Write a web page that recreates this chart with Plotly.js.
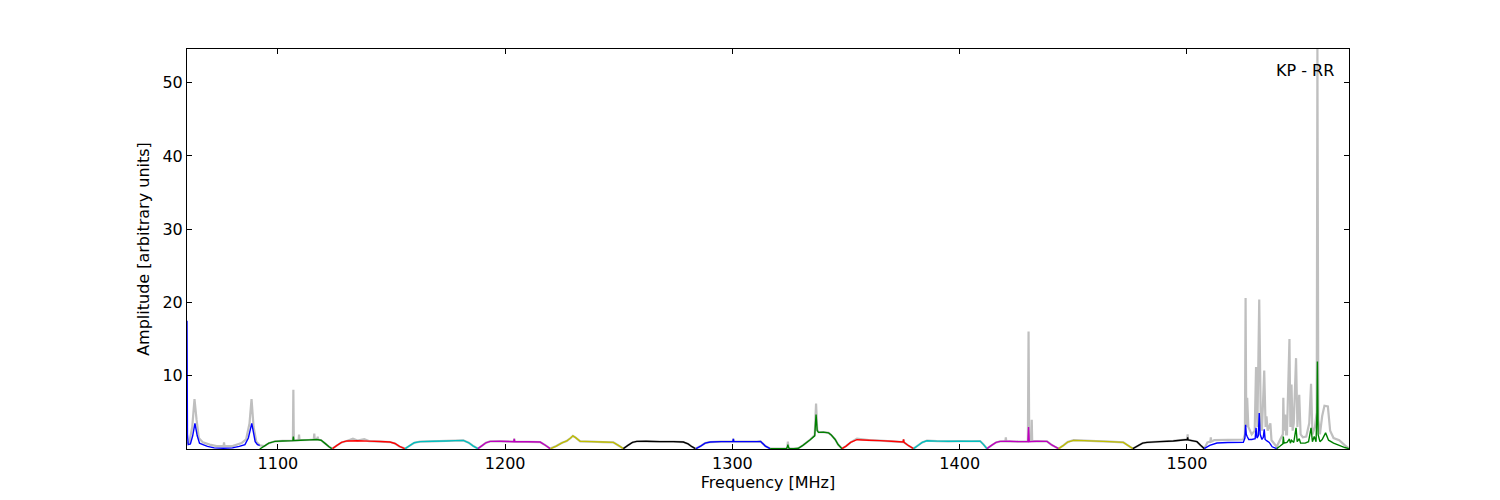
<!DOCTYPE html>
<html>
<head>
<meta charset="utf-8">
<script src="https://cdn.plot.ly/plotly-3.0.1.min.js"></script>
<style>html,body{margin:0;padding:0;background:#fff;}#chart{width:1500px;height:500px;}</style>
</head>
<body>
<div id="chart"></div>
<script>
// ---- Data ----
// Per-subband bandpass-calibrated amplitude (colored lines)
const band1F = [1060.0,1060.2,1060.5,1061.5,1062.5,1063.5,1064.5,1065.5,1067,1069,1072,1076,1080,1083,1085.5,1087,1088.5,1090,1091,1092];
const band1A = [17.5,2.0,0.6,0.7,1.8,3.5,1.8,0.8,0.6,0.35,0.15,0.1,0.15,0.35,0.6,1.5,3.5,1.0,0.6,0.5];
const band2F = [1092,1094,1096,1098.7,1102,1106.6,1106.8,1107.0,1110,1114,1117,1119,1121,1122.5,1123.7];
const band2A = [0.0,0.4,0.8,1.04,1.1,1.15,1.7,1.15,1.2,1.25,1.3,1.2,0.7,0.3,0.05];
const band3F = [1124,1126,1128,1130.3,1135,1140,1145,1149.3,1151.5,1153.5,1155.8];
const band3A = [0.05,0.5,0.9,1.1,1.13,1.08,1.02,0.95,0.75,0.35,0.05];
const band4F = [1156,1158,1160,1162.6,1168,1174,1178,1181.6,1184,1186,1188];
const band4A = [0.05,0.45,0.85,1.0,1.05,1.1,1.15,1.17,0.85,0.4,0.05];
const band5F = [1188,1190,1191.5,1193.4,1198,1203.8,1204,1204.2,1210,1215.4,1217.5,1219.8];
const band5A = [0.05,0.5,0.85,1.04,1.05,1.0,1.4,1.0,0.98,0.95,0.55,0.05];
const band6F = [1220,1222.5,1225,1227.1,1228.8,1229.8,1231,1233,1238,1243,1247.6,1250,1252];
const band6A = [0.05,0.4,0.85,1.1,1.5,1.8,1.55,1.05,1.0,0.95,0.9,0.45,0.05];
const band7F = [1252,1254,1256,1257.9,1262,1268,1274,1278.4,1280.5,1282,1283.7];
const band7A = [0.05,0.5,0.9,1.04,1.05,1.0,1.0,0.95,0.7,0.35,0.05];
const band8F = [1284,1286,1288,1290.2,1295,1300.2,1300.4,1300.6,1305,1310.8,1312.4,1314.5,1316.6];
const band8A = [0.05,0.4,0.8,0.95,1.0,1.0,1.4,1.0,1.0,1.0,1.04,0.4,0.05];
const band9F = [1316.6,1320,1323.8,1324.2,1324.4,1324.6,1325,1327,1329,1331,1334.2,1336.2,1336.8,1337.3,1337.9,1340,1342.3,1343.5,1345.2,1346.5,1348.2];
const band9A = [0.05,0.05,0.05,0.3,0.6,0.3,0.05,0.05,0.1,0.5,1.27,1.8,4.7,2.5,2.27,2.3,2.2,1.9,1.3,0.6,0.05];
const band10F = [1348.2,1350,1352,1354.8,1360,1365,1370,1375.1,1375.3,1375.5,1377.5,1379.7];
const band10A = [0.05,0.4,0.9,1.27,1.2,1.15,1.05,0.95,1.3,0.9,0.45,0.05];
const band11F = [1379.7,1381.5,1383.5,1385.6,1390,1395,1400,1405,1409,1410.5,1412];
const band11A = [0.05,0.45,0.9,1.13,1.08,1.05,1.08,1.06,1.08,0.6,0.05];
const band12F = [1412,1414,1416,1417.8,1422,1426,1430.0,1430.3,1430.6,1434,1438.4,1440.5,1443.5];
const band12A = [0.05,0.5,0.9,1.04,1.05,1.0,1.0,3.0,1.0,1.05,1.04,0.55,0.05];
const band13F = [1443.5,1445.5,1447.5,1450.1,1455,1460,1466,1472,1474,1476.2];
const band13A = [0.05,0.45,0.95,1.17,1.15,1.08,1.0,0.9,0.5,0.05];
const band14F = [1476.2,1478.5,1480.5,1482.4,1488,1494,1499.3,1500.1,1500.3,1500.5,1504.4,1506,1507.6];
const band14A = [0.05,0.45,0.8,0.9,1.0,1.1,1.27,1.25,1.6,1.25,1.0,0.5,0.05];
const band15F = [1507.6,1510,1513.2,1518,1524.8,1525.5,1525.8,1526.1,1526.5,1527.2,1528.5,1530.0,1530.4,1530.8,1531.4,1531.8,1532.2,1533,1533.6,1534,1534.4,1535.2,1536.2,1537.5,1539.5];
const band15A = [0.05,0.5,0.82,0.88,0.9,1.5,3.3,2.0,1.7,1.3,1.3,1.4,2.9,1.5,1.8,4.9,2.0,1.3,1.6,2.7,1.3,1.1,0.9,0.3,0.05];
const band16F = [1539.5,1541,1542.2,1542.4,1542.7,1544,1545.1,1545.5,1546,1547,1548,1548.5,1549.4,1550,1552,1553.5,1554.6,1555.2,1556,1556.8,1557.2,1557.4,1557.7,1558.5,1559.5,1561,1562.3,1564.5,1567,1569.5,1571.3];
const band16A = [0.05,0.4,0.7,1.7,0.8,0.9,1.36,0.8,1.2,0.9,2.9,1.0,1.4,0.8,0.8,1.0,2.9,1.0,1.7,1.0,5.0,11.95,2.0,1.0,1.3,2.2,1.2,0.8,0.5,0.2,0.05];

// Raw (uncalibrated-RFI) spectrum shown in grey
const greyF = [
 1060,1061,1062.3,1063.3,1064.2,1065.2,1067,1070,1073,1076.1,1076.3,1076.5,1080,1084,1086,1087.5,1088.4,1089.3,1090.5,1092,
 1094,1096,1098.7,1102,1106.6,1106.8,1107.0,1109.1,1109.3,1109.5,1114,1115.8,1116,1116.2,1117.3,1117.5,1117.7,1119,1121,1122.5,1124,
 1126,1128,1130.3,1133,1135,1138,1140,1145,1149.3,1151.5,1153.5,1156,
 1158,1160,1162.6,1168,1174,1178,1181.6,1184,1186,1188,
 1190,1191.5,1193.4,1198,1203.8,1204,1204.2,1210,1215.4,1217.5,1219.8,
 1222.5,1225,1227.1,1228.8,1229.8,1231,1233,1238,1243,1247.6,1250,1252,
 1254,1256,1257.9,1262,1268,1274,1278.4,1280.5,1282,1283.7,
 1286,1288,1290.2,1295,1300.2,1300.4,1300.6,1305,1310.8,1312.4,1314.5,1316.6,
 1320,1324.1,1324.4,1324.7,1327,1329,1331,1334.2,1336.2,1336.8,1337.3,1337.9,1340,1342.3,1343.5,1345.2,1346.5,1348.2,
 1350,1352,1354.8,1360,1365,1370,1375.1,1375.3,1375.5,1377.5,1379.7,
 1381.5,1383.5,1385.6,1390,1395,1400,1405,1409,1410.5,1412,
 1414,1416,1417.8,1420.1,1420.3,1420.5,1426,1430.0,1430.3,1430.6,1431.5,1431.7,1431.9,1434,1438.4,1440.5,1443.5,
 1445.5,1447.5,1450.1,1455,1460,1466,1472,1474,1476.2,
 1478.5,1480.5,1482.4,1488,1494,1499.3,1500.1,1500.3,1500.5,1504.4,1506,1507.6,
 1509,1510.3,1510.5,1510.7,1512,1518,1524.8,1525.5,1525.8,1526.1,1526.5,1527,1528.5,1529.8,1530.4,1531,1531.8,1532.5,1533,1534,1534.6,1535,1535.5,1536.7,1537.2,1539.5,
 1541,1542.2,1542.4,1542.7,1543.2,1543.6,1544,1545.1,1545.5,1546,1546.5,1547,1548,1548.6,1549.4,1550,1551,1552.5,1553.8,1554.6,1555.2,1556.3,1557.1,1557.4,1557.8,1558.5,1559.5,1560.5,1562,1563,1564.5,1567,1569.5,1571.3
];
const greyA = [
 0.8,0.9,3.0,6.8,4.0,1.5,0.9,0.6,0.4,0.4,0.9,0.4,0.4,0.8,1.3,3.5,6.8,3.0,1.0,0.5,
 0.4,0.8,1.05,1.1,1.15,8.1,1.15,1.2,1.95,1.2,1.25,1.3,2.1,1.3,1.3,1.7,1.3,1.2,0.7,0.3,0.05,
 0.5,0.9,1.1,1.4,1.15,1.35,1.08,1.02,0.95,0.75,0.35,0.05,
 0.45,0.85,1.0,1.05,1.1,1.15,1.17,0.85,0.4,0.05,
 0.5,0.85,1.04,1.05,1.0,1.4,1.0,0.98,0.95,0.55,0.05,
 0.4,0.85,1.1,1.5,1.8,1.55,1.05,1.0,0.95,0.9,0.45,0.05,
 0.5,0.9,1.04,1.05,1.0,1.0,0.95,0.7,0.35,0.05,
 0.4,0.8,0.95,1.0,1.0,1.4,1.0,1.0,1.0,1.04,0.4,0.05,
 0.05,0.05,1.0,0.05,0.05,0.1,0.5,1.27,1.9,6.2,2.6,2.3,2.3,2.2,1.9,1.3,0.6,0.05,
 0.4,0.9,1.4,1.2,1.15,1.05,0.95,1.3,0.9,0.45,0.05,
 0.45,0.9,1.15,1.08,1.05,1.08,1.06,1.08,0.6,0.05,
 0.5,0.9,1.04,1.05,1.6,1.05,1.0,1.0,16.05,1.2,1.2,4.0,1.1,1.05,1.04,0.55,0.05,
 0.45,0.95,1.2,1.15,1.08,1.0,0.9,0.5,0.05,
 0.45,0.8,0.9,1.0,1.1,1.27,1.25,2.0,1.25,1.0,0.5,0.05,
 0.9,1.0,1.6,1.0,1.2,1.25,1.3,2.0,20.6,3.0,7.0,3.0,2.0,2.5,11.2,3.0,20.4,3.5,2.5,10.7,3.0,4.45,2.5,3.5,1.2,0.3,
 1.3,2.0,7.0,2.5,4.7,2.0,2.0,15.0,3.0,8.8,2.5,3.5,12.4,3.0,7.4,2.0,1.6,1.7,3.5,8.9,2.0,3.0,5.0,54.6,4.0,2.0,4.5,5.9,5.8,2.5,1.5,1.2,0.5,0.1
];

const xTickVals = [1100,1200,1300,1400,1500];
const yTickVals = [10,20,30,40,50];
const label = "KP - RR";

// ---- Build traces ----
const bandColors = ['#0000ff','#008000','#ff0000','#00bfbf','#bf00bf','#bfbf00','#000000'];
const bandsF = [band1F,band2F,band3F,band4F,band5F,band6F,band7F,band8F,band9F,band10F,band11F,band12F,band13F,band14F,band15F,band16F];
const bandsA = [band1A,band2A,band3A,band4A,band5A,band6A,band7A,band8A,band9A,band10A,band11A,band12A,band13A,band14A,band15A,band16A];

const traces = [{
  x: greyF, y: greyA, type: 'scatter', mode: 'lines',
  line: {color: '#bfbfbf', width: 2.2, simplify: false}, hoverinfo: 'skip', showlegend: false
}];
bandsF.forEach((f, i) => {
  traces.push({
    x: f, y: bandsA[i], type: 'scatter', mode: 'lines',
    line: {color: bandColors[i % bandColors.length], width: 1.4, simplify: false},
    showlegend: false
  });
});

const font = {family: 'DejaVu Sans, sans-serif', size: 16, color: '#000'};
const layout = {
  width: 1500, height: 500,
  margin: {l: 187, r: 151, t: 49, b: 51},
  paper_bgcolor: '#fff', plot_bgcolor: '#fff',
  font: font,
  showlegend: false,
  xaxis: {
    range: [1060, 1571.3], tickvals: xTickVals, ticks: 'inside', ticklen: 5, tickcolor: '#000',
    showline: true, linecolor: '#000', linewidth: 1, mirror: 'ticks', showgrid: false, zeroline: false,
    title: {text: 'Frequency [MHz]', font: font, standoff: 2}, tickfont: font
  },
  yaxis: {
    range: [0, 54.6], tickvals: yTickVals, ticks: 'inside', ticklen: 5, tickcolor: '#000',
    showline: true, linecolor: '#000', linewidth: 1, mirror: 'ticks', showgrid: false, zeroline: false,
    title: {text: 'Amplitude [arbitrary units]', font: font, standoff: 8}, tickfont: font
  },
  annotations: [{
    text: label, xref: 'paper', yref: 'paper', x: 1, y: 0.9475, xanchor: 'right', yanchor: 'middle',
    xshift: -13, showarrow: false, font: font
  }]
};

Plotly.newPlot('chart', traces, layout, {displayModeBar: false, staticPlot: true});
</script>
</body>
</html>
